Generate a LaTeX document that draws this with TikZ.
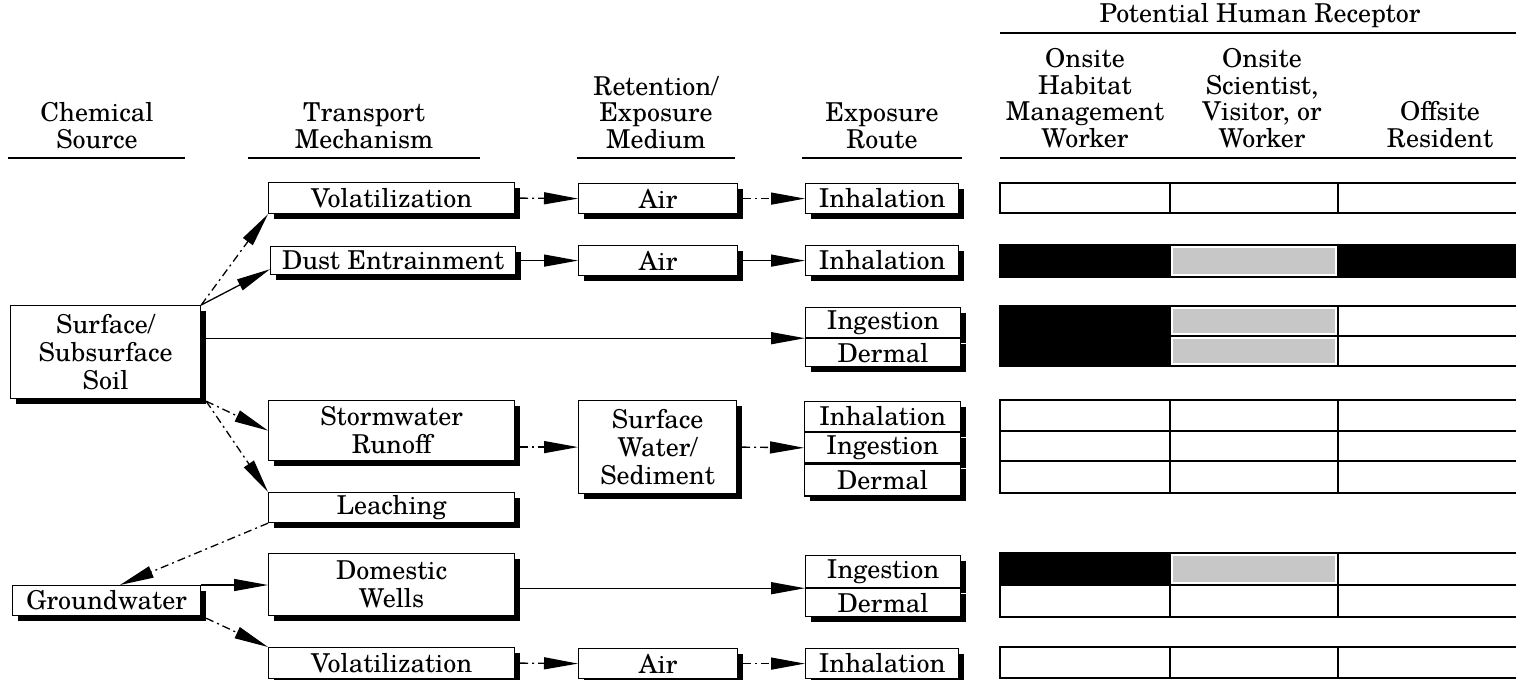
\documentclass[tikz,border=0pt]{standalone}
\usepackage{fontspec}
\setmainfont{TeX Gyre Schola}
\usetikzlibrary{arrows.meta,shadows,calc}
\definecolor{gcol}{gray}{0.78}
\begin{document}
\begin{tikzpicture}[x=1pt,y=-1pt,
  every node/.style={font=\fontsize{26}{26.5}\selectfont},
  box/.style={draw, fill=white, line width=1.2pt, inner sep=0pt, anchor=north west, align=center,
    font=\fontsize{26}{28}\selectfont,
    drop shadow={shadow xshift=5pt, shadow yshift=-5pt, fill=black, opacity=1}},
  hdr/.style={anchor=south, inner sep=0pt, align=center},
  rulel/.style={line width=1.6pt},
  conn/.style={line width=1.3pt, -{Triangle[length=34pt,width=12pt]}},
  dd/.style={conn, dash pattern=on 8pt off 4pt on 2pt off 4pt},
  cell/.style={draw, line width=2pt},
]
\useasboundingbox (0,0) rectangle (1516,680);

% headers
\node[hdr] (hchem) at (97,149) {Chemical\\Source};
\draw[rulel] (8,158) -- (185,158);
\node[hdr] (htrans) at (364,149) {Transport\\Mechanism};
\draw[rulel] (248,158) -- (480,158);
\node[hdr] (hret) at (656,149) {Retention/\\Exposure\\Medium};
\draw[rulel] (577,158) -- (735,158);
\node[hdr] (hroute) at (882,149) {Exposure\\Route};
\draw[rulel] (802,158) -- (962,158);
\node[anchor=base, inner sep=0pt] (hrec) at (1260,22) {Potential Human Receptor};
\draw[rulel] (1000,33) -- (1516,33);
\node[hdr] (hc1) at (1085,148) {Onsite\\Habitat\\Management\\Worker};
\node[hdr] (hc2) at (1262,148) {Onsite\\Scientist,\\Visitor, or\\Worker};
\node[hdr] (hc3) at (1440,148) {Offsite\\Resident};
\draw[rulel] (1000,158) -- (1516,158);

% sources
\node[box, minimum width=190pt, minimum height=93pt] (soil) at (10,305) {Surface/\\Subsurface\\Soil};
\node[box, minimum width=188pt, minimum height=30pt] (gw) at (12,585) {Groundwater};

% transport
\node[box, minimum width=246pt, minimum height=31pt] (vol1) at (268,182) {Volatilization};
\node[box, minimum width=245pt, minimum height=28pt] (dust) at (270,246) {Dust Entrainment};
\node[box, minimum width=246pt, minimum height=60pt] (storm) at (268,400) {Stormwater\\Runoff};
\node[box, minimum width=246pt, minimum height=30pt] (leach) at (268,492) {Leaching};
\node[box, minimum width=246pt, minimum height=62pt] (wells) at (268,553) {Domestic\\Wells};
\node[box, minimum width=246pt, minimum height=31pt] (vol7) at (268,647) {Volatilization};

% media
\node[box, minimum width=159pt, minimum height=30pt] (air1) at (578,183) {Air};
\node[box, minimum width=159pt, minimum height=30pt] (air2) at (578,245) {Air};
\node[box, minimum width=158pt, minimum height=93pt] (sw) at (578,400) {Surface\\Water/\\Sediment};
\node[box, minimum width=159pt, minimum height=30pt] (air7) at (578,648) {Air};

% exposure routes
\node[box, minimum width=153pt, minimum height=30pt] (inh1) at (805,183) {Inhalation};
\node[box, minimum width=153pt, minimum height=30pt] (inh2) at (805,245) {Inhalation};
\node[box, minimum width=155pt, minimum height=30pt] (ing3) at (805,307) {Ingestion};
\node[box, minimum width=155pt, minimum height=28pt] (der3) at (ing3.south west) {Dermal};
\node[box, minimum width=156pt, minimum height=30pt] (inh4) at (804,401) {Inhalation};
\node[box, minimum width=156pt, minimum height=30pt] (ing4) at (inh4.south west) {Ingestion};
\node[box, minimum width=156pt, minimum height=32pt] (der4) at (ing4.south west) {Dermal};
\node[box, minimum width=155pt, minimum height=32pt] (ing6) at (805,555) {Ingestion};
\node[box, minimum width=155pt, minimum height=28pt] (der6) at (ing6.south west) {Dermal};
\node[box, minimum width=153pt, minimum height=30pt] (inh7) at (805,648) {Inhalation};

% connectors
\draw[dd] (soil.north east) -- (vol1.south west);
\draw[conn] (soil.north east) -- ($(dust.south west)+(0,-6)$);
\draw[conn] ($(soil.east |- ing3.south west)+(5,0)$) -- (ing3.south west);
\draw[dd] ($(soil.south east)+(5,2)$) -- (storm.west);
\draw[dd] ($(soil.south east)+(5,2)$) -- (leach.north west);
\draw[dd] (leach.south west) -- ($(gw.north west)+(108,0)$);
\draw[conn] (gw.north east) -- (wells.west |- gw.north east);
\draw[dd] ($(gw.south east)+(5,2)$) -- (vol7.north west);

\draw[dd] ($(vol1.east)+(5,0)$) -- (air1.west);
\draw[dd] ($(air1.east)+(5,0)$) -- (inh1.west);
\draw[conn] ($(dust.east)+(5,0)$) -- (air2.west);
\draw[conn] ($(air2.east)+(5,0)$) -- (inh2.west);
\draw[dd] ($(storm.east |- sw.west)+(5,0)$) -- (sw.west);
\draw[dd] ($(sw.east)+(5,0)$) -- (ing4.west);
\draw[conn] ($(wells.east |- ing6.south west)+(5,0)$) -- (ing6.south west);
\draw[dd] ($(vol7.east)+(5,0)$) -- (air7.west);
\draw[dd] ($(air7.east)+(5,0)$) -- (inh7.west);

% receptor table
\def\ca{1000}\def\cb{1170}\def\cc{1338}\def\cd{1540}
\foreach \ya/\yb in {183/213, 400/431, 431/461, 461/493, 585/617, 647/678} {
  \draw[cell] (\ca,\ya) rectangle (\cb,\yb);
  \draw[cell] (\cb,\ya) rectangle (\cc,\yb);
  \draw[cell] (\cc,\ya) rectangle (\cd,\yb);
}
% row 2
\draw[cell, fill=black] (\ca,245) rectangle (\cb,277);
\draw[cell] (\cb,245) rectangle (\cc,277);
\fill[gcol] (\cb+3,248) rectangle (\cc-3,274);
\draw[cell, fill=black] (\cc,245) rectangle (\cd,277);
% row 3
\draw[cell, fill=black] (\ca,306) rectangle (\cb,366);
\draw[cell] (\cb,306) rectangle (\cc,336);
\draw[cell] (\cb,336) rectangle (\cc,366);
\fill[gcol] (\cb+3,309) rectangle (\cc-3,333);
\fill[gcol] (\cb+3,339) rectangle (\cc-3,363);
\draw[cell] (\cc,306) rectangle (\cd,336);
\draw[cell] (\cc,336) rectangle (\cd,366);
% row 6
\draw[cell, fill=black] (\ca,553) rectangle (\cb,585);
\draw[cell] (\cb,553) rectangle (\cc,585);
\fill[gcol] (\cb+3,556) rectangle (\cc-3,582);
\draw[cell] (\cc,553) rectangle (\cd,585);
\end{tikzpicture}
\end{document}
